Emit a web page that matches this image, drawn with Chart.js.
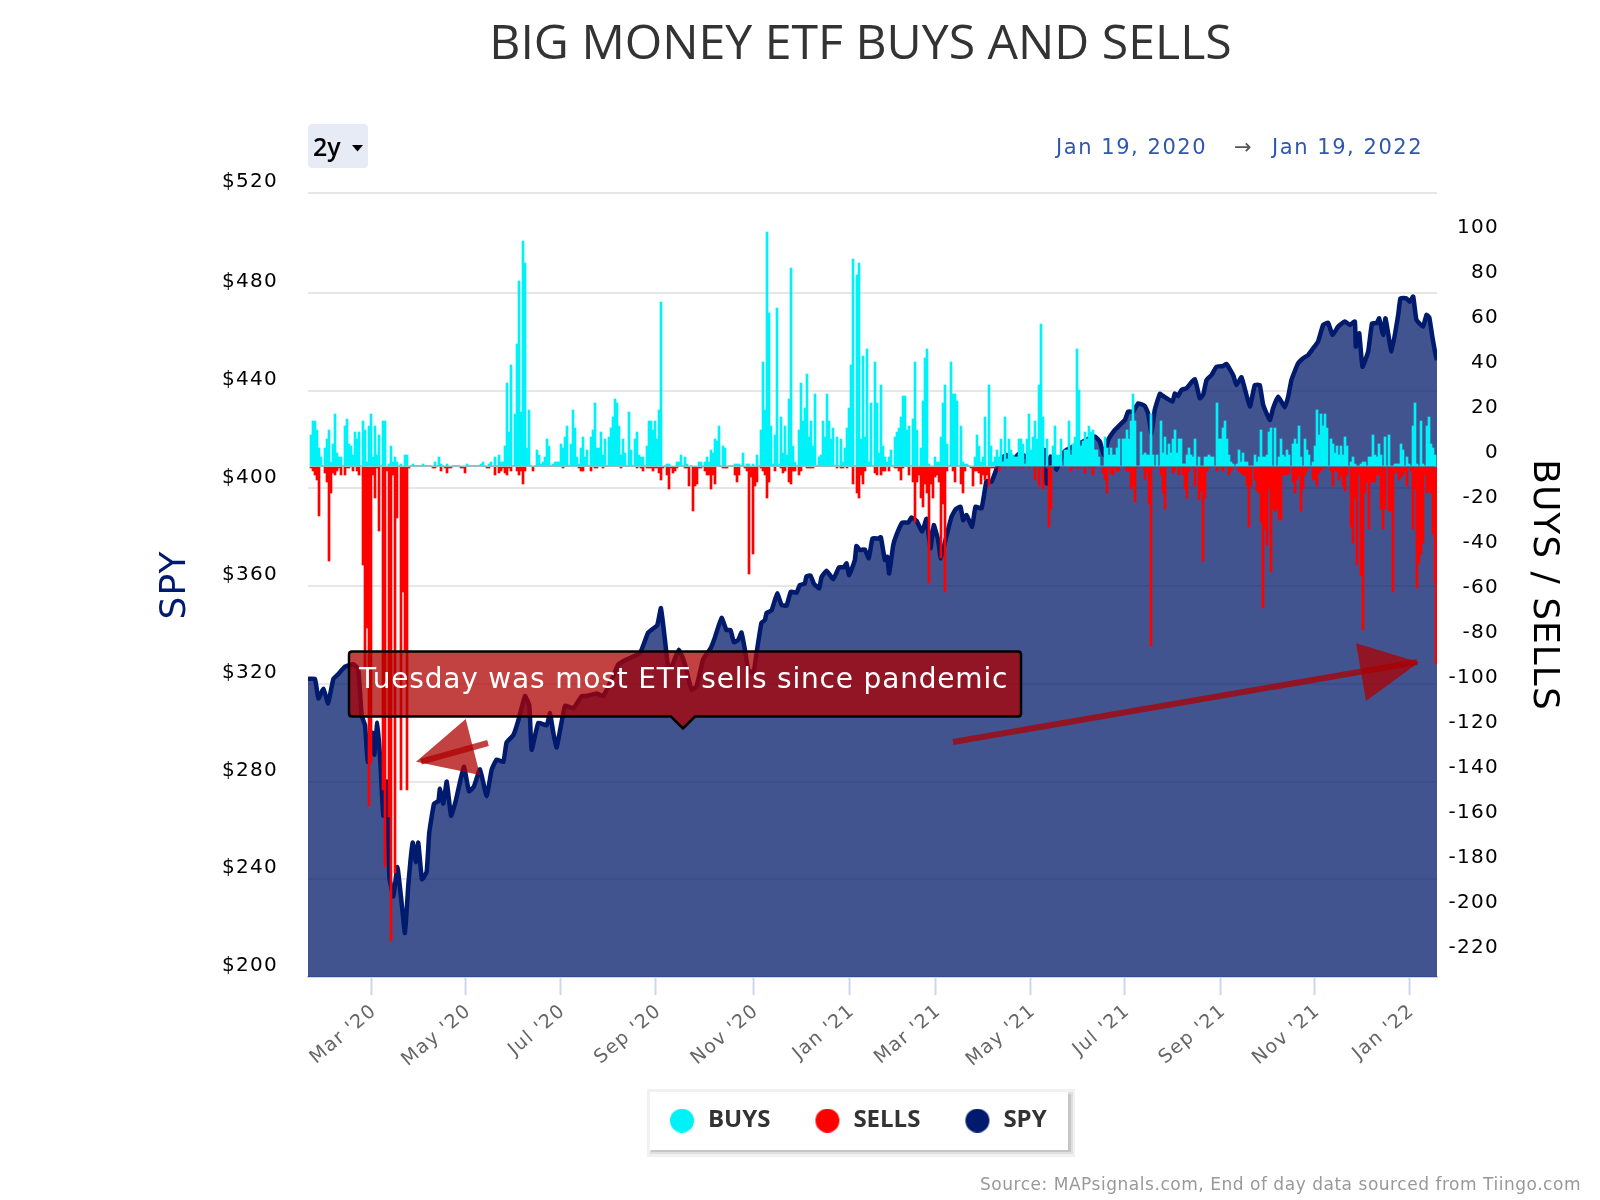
<!DOCTYPE html>
<html><head><meta charset="utf-8">
<script src="https://cdn.jsdelivr.net/npm/chart.js@4"></script>
<style>
html,body{margin:0;padding:0;background:#fff}
#wrap{position:relative;width:1600px;height:1200px;overflow:hidden;font-family:"DejaVu Sans",sans-serif}
canvas{position:absolute;left:0;top:0}
svg{position:absolute;left:0;top:0}
.t{position:absolute;white-space:nowrap}
</style></head><body>
<div id="wrap">
<canvas id="c" width="1600" height="1200"></canvas>
<svg width="1600" height="1200" viewBox="0 0 1600 1200">
 <path d="M352 651.5H1018Q1021 651.5 1021 654.5V713.5Q1021 716.5 1018 716.5H695L683 728.5L671 716.5H352Q349 716.5 349 713.5V654.5Q349 651.5 352 651.5Z" fill="rgba(173,0,0,.742)" stroke="#000" stroke-width="2.5"/>
 <text x="359" y="688" fill="#fff" font-family="DejaVu Sans" font-size="28" letter-spacing="0.82">Tuesday was most ETF sells since pandemic</text>
 <line x1="488" y1="743" x2="421" y2="761.7" stroke="rgba(173,0,0,.74)" stroke-width="6"/>
 <polygon points="416,761.7 465.7,719 480,775" fill="rgba(173,0,0,.74)"/>
 <line x1="953" y1="742" x2="1417" y2="662" stroke="rgba(173,0,0,.74)" stroke-width="6"/>
 <polygon points="1356,643.3 1419,662.3 1366,701" fill="rgba(173,0,0,.74)"/>
 <rect x="308" y="124" width="60" height="44" rx="4" fill="#e6ebf5"/>
 <polygon points="352,145 363,145 357.5,151.5" fill="#000"/>
</svg>
<div class="t" style="left:313px;top:129px;font:600 25px 'Open Sans';color:#000">2y</div>
<div class="t" style="left:1056px;top:135px;font:21px 'DejaVu Sans';letter-spacing:1.55px;color:#3057b0">Jan 19, 2020</div>
<div class="t" style="left:1234px;top:135px;font:21px 'DejaVu Sans';color:#555">→</div>
<div class="t" style="left:1272px;top:135px;font:21px 'DejaVu Sans';letter-spacing:1.55px;color:#3057b0">Jan 19, 2022</div>
<div class="t" style="left:980px;top:1174px;font:17px 'DejaVu Sans';letter-spacing:.53px;color:#999">Source: MAPsignals.com, End of day data sourced from Tiingo.com</div>
</div>
<script>
const seriesNames=['BUYS','SELLS','SPY'];
const seriesColors=['#00f2f9','#ff0000','#001a6e'];
const tickDates=['2020-03-01','2020-05-01','2020-07-01','2020-09-01','2020-11-03','2021-01-04','2021-03-01','2021-05-01','2021-07-01','2021-09-01','2021-11-01','2022-01-01'];
const tickLabels=["Mar '20","May '20","Jul '20","Sep '20","Nov '20","Jan '21","Mar '21","May '21","Jul '21","Sep '21","Nov '21","Jan '22"];
const spyTicks=[200,240,280,320,360,400,440,480,520];
const flowTicks=[-220,-200,-180,-160,-140,-120,-100,-80,-60,-40,-20,0,20,40,60,80,100];

const buys1=[14,20,20,16,8,4,0,8,12,16,2,10,23,6,4,4,0,18,21,10,9,5,15,12,15,0,20,16,2,18,23,4,18,5,14,0,20,20,0,1,
9,2,4,2,0,1,0,5,5,0,0,1,0,0,0,0,1,0,0,0,0,0,2,0,4,1,0,0,1,0,0,0,0,0,0,0,0,0,1,0,0,0,0,0,0,1,2,0,0,1,
2,0,4,0,5,2,2,9,37,15,45,0,23,54,82,24,100,90,8,25,0,0,0,7,5,1,2,4,12,9,0,1,2,2,2,10,8,13,18,0,
10,25,17,4,1,8,13,4,7,0,13,16,28,8,8,15,5,12,0,13,17,22,30,28,18,5,12,6,0,24,7,0,12,15,5,4,4,0,9,20,
20,16,20,12,25,73,0,0,1,1,0,0,0,2,2,5,0,4,1,0];
const buys2=[0,0,0,0,2,2,0,2,4,2,7,6,12,11,18,0,9,8,0,0,0,0,1,1,1,0,6,0,1,1,0,1,0,5,0,16,46,25,104,68,
18,1,14,70,1,22,6,18,5,30,88,9,2,0,16,37,20,26,41,13,20,9,32,0,4,5,20,13,32,20,12,17,0,13,0,12,2,8,17,26,
45,92,0,85,90,12,49,13,52,2,28,0,46,28,6,36,9,4,2,4,7,0,13,15,17,22,31,31,16,18,0,21,46,16,0,8,29,48,52,1,
0,0,4,2,2,13,28,36,10,0,46,32,32,29,0,18,2,1,1,0,0,0,4,14,9,2,4,22,0,36,9,2,4,7,4,12,2,22,3,12,
7,5,4,4,12,12,10,1,12,23,7,13,20,12,36];
const buys3=[63,22,0,12,0,0,9,18,5,5,12,0,7,7,20,5,10,13,52,34,9,11,15,12,18,15,16,7,7,4,0,0,13,8,5,8,5,5,8,12,
0,12,12,16,12,20,32,20,0,0,15,5,6,5,5,23,5,0,5,0,20,6,13,5,10,6,12,16,6,12,12,1,1,5,8,5,4,12,0,4,
0,0,4,4,5,4,4,0,28,12,12,17,20,12,5,2,1,0,1,7,2,6,2,2,0,0,0,5,2,4,16,4,4,5,15,17,0,17,0,4,
12,5,4,7,5,0,10,12,10,18,4,0,12,7,5,0,2,9,25,14,23,18,23,17,0,12,10,6,9,5,9,5,13,9,0,2,4,1,0,0,
1,2,2,0,4,4,14,5,4,10,5,0,13,0,14,0,0,1,1,1,10,7,0,4,1,0,18,28,1,0,20,1,0,18,22,10,8,5,0];

const sells1=[1,2,4,6,22,0,0,3,7,42,12,3,4,2,1,4,0,4,1,1,0,2,0,2,4,0,44,90,72,151,132,4,14,1,29,0,144,178,2,156,
211,4,181,23,0,144,56,82,144,1,0,0,0,0,0,0,0,0,0,0,0,1,1,0,0,2,0,1,3,1,1,0,0,0,0,1,1,3,0,0,0,0,0,0,0,0,0,0,1,1,
0,0,4,0,3,2,1,3,4,1,2,0,0,2,4,2,8,2,0,0,0,2,0,0,0,0,0,0,0,0,0,0,0,0,0,0,1,0,0,0,
0,0,0,0,1,2,2,0,0,0,2,0,1,1,0,0,1,0,0,0,0,0,0,0,0,1,0,0,0,0,0,0,0,1,0,1,2,0,1,1,
1,2,1,1,3,6,1,0,4,10,1,3,2,1,0,0,0,1,1,9];
const sells2=[0,20,9,8,1,1,0,2,4,4,10,4,8,0,0,0,1,1,1,0,0,0,4,7,4,0,0,1,2,48,5,39,9,7,0,1,2,4,14,7,
0,0,2,0,0,1,3,2,0,7,8,2,2,0,4,2,0,0,1,1,1,1,0,0,0,0,0,0,0,0,0,0,0,1,0,1,1,0,1,0,
0,8,0,12,14,4,8,2,0,0,0,0,3,4,0,4,2,2,0,2,0,0,1,1,2,6,1,0,0,4,0,7,25,7,4,14,18,8,12,52,
8,14,5,4,7,41,17,56,2,0,0,2,7,0,0,8,12,2,0,0,1,9,2,2,3,8,4,6,4,9,1,1,1,0,2,1,0,1,0,0,
1,1,1,0,0,1,1,0,0,1,0,0,6,0,9];
const sells3=[1,10,0,1,27,19,1,0,0,0,0,0,0,0,0,2,1,0,1,1,1,0,3,0,1,1,4,1,0,0,0,3,6,12,1,3,4,1,2,2,
0,0,1,2,2,10,9,16,1,0,0,1,6,3,17,80,1,1,0,0,4,12,19,1,0,0,3,2,0,4,1,4,10,14,2,0,1,9,0,15,
11,42,14,2,1,0,0,0,2,0,1,2,0,0,4,2,1,0,1,2,3,4,4,9,27,9,0,6,11,12,25,63,28,35,10,47,19,20,19,24,
24,4,4,4,3,0,7,12,6,4,20,10,4,2,1,0,6,6,9,3,2,1,1,0,0,2,9,2,2,6,4,9,11,4,0,27,34,14,44,4,
49,73,12,7,28,7,7,7,4,4,19,28,19,0,20,20,56,3,2,6,5,4,2,9,0,2,28,10,54,43,39,34,4,12,11,12,30,52,88];

// SPY turning points: day counted from the axis start (2020-01-20), price in dollars
const spyDays=[0,4.5,6.7,10,13,16.4,19.6,24,29.3,32.5,34.7,36.9,38.6,41.6,42.9,44.8,46.6,48.7,50.9,52.6,55.2,57.8,60.1,62.7,64.9,67.7,69.8,71.3,73.7,76.7,78.4,81.5,84.3,85.3,87.5,89.7,92.5,95.5,98.7,100.9,104.1,107.3,111.2,115.5,118.8,122,126.3,128.4,132.8,136,140.3,143.1,144.6,148.9,154.3,156.5,158.6,160.8,166.2,171.6,177,180,186.6,190.9,197.3,200.6,206,214.6,220,225.8,228.2,230.8,232.9,235,239.8,243.7,248,251.2,255.5,260.3,263.1,267.4,270.6,273.2,275.4,278.2,280.3,282.5,284.6,287.9,290,293.2,295.4,296.5,299.7,
303.4,306.2,309.4,312.2,315.9,318,321.2,322.3,324.9,327.1,330.5,332,335.3,339.6,343.4,346.5,348.2,349.9,353.6,354.6,356.8,360,362.6,365,368.7,370.4,373,374.5,375.8,378.4,380.5,384.2,388.1,390.2,393.4,397.1,399.9,402.5,404.6,407.4,409.2,412.6,416.1,418.7,421.9,423.6,425.8,429.4,431.6,435.5,438.7,441.9,445.5,448.4,451.6,454.8,460.2,464,468,472,476.4,477.5,480.1,484,488.3,490.4,
501.2,508.8,512,514.6,517.4,521.7,525,528.2,530.3,533.5,536.8,541.1,543.2,545.4,547.5,550.8,552.9,559,560.5,562.6,564.8,568,573.4,576.6,578.8,581,584.2,587.4,591.7,593.9,598.2,600.3,603.6,609,612.2,615.4,617.6,621.9,624,627.3,631.6,633.8,635.9,640.2,643.5,646.7,649.9,653.1,656.4,659.6,662.4,666.1,670.4,673.6,676.9,677.5,679.7,681.8,685.5,688,690.9,692.6,695.2,696.7,700.6,704.9,706.4,710.2,712.4,714.6,716.7,721,723.2,725,727,729,730];
const spy=[322,322,314,318,312,322,324,327,328,326,307,303,288,300,291,304,290,266,280,241,233,245,233,218,238,255,247,255,240,243,259,271,272,277,271,280,266,272,281,286,276,278,285,274,285,289,288,296,299,305,315,311,293,304,303,308,300,294,311,310,315,315,316,315,323,328,330,332.5,341,344,351,338,327,327,334,328,317.5,319,330,334.5,339,347,342,342,337,338,341,334,326,324,332.5,345,346,349,350,
357,352.3,352,357.7,357.3,360.4,361,364,364.3,361,359,363.6,366.3,362.8,367.7,367.7,369.3,364.5,370.7,376.4,374.8,375,371.4,379.5,379.5,380,370.7,372,365.2,376.8,381,386,386,388.1,386.8,382.3,387.5,375.5,385,379,371.4,380,388.4,391.4,392.5,387,389.1,384.3,392.5,391.8,403,402.7,408.5,412.3,413.7,411,414.4,413,411,415,415.7,402,413,407.6,414.4,415.7,
419.2,421.2,419.2,413.7,419.8,423.9,426,428,431.4,431.4,434.8,433.7,430.7,422.6,432.1,438.7,437.8,435.5,438.9,437.8,440.3,441,444.7,436.9,438.3,444.4,446.4,449.8,450.1,450.9,446.4,442.3,445.5,433.5,442.3,442.3,434.2,428,432.8,437.6,433.2,437.6,444.4,451.2,453.3,454.6,457.3,460.1,466.9,467.8,462.8,466.2,468.3,466.9,468.3,458,463.5,449.8,456,467.6,467.6,469.6,462.8,469.6,456,471,477.8,477.8,476.4,478.5,469,466.2,471,470,462,455,452.5];

const SLOTS=564, firstBarDay=1.94, slotDays=2/1.5466, SPY_MAX=520.9;
function place(target,seg,start){seg.forEach((v,i)=>{target[start+i]=v;});}
const buys=new Array(SLOTS).fill(0), sells=new Array(SLOTS).fill(0);
place(buys,buys1,0);place(buys,buys2,190);place(buys,buys3,365);
place(sells,sells1,0);place(sells,sells2,190);place(sells,sells3,365);
const dayOf=s=>(Date.parse(s)-Date.parse('2020-01-20'))/864e5;
const barDay=j=>firstBarDay+j*slotDays;
const tickValues=tickDates.map(dayOf);

function dot(color){const c=document.createElement('canvas');c.width=28;c.height=24;const x=c.getContext('2d');x.fillStyle=color;x.beginPath();x.arc(14,12,12,0,Math.PI*2);x.fill();return c;}
const dots=seriesColors.map(dot);

// letter-spaced axis text, matching the reference's spaced type
const S=Chart.Scale.prototype, dl=S.drawLabels, dt=S.drawTitle;
S.drawLabels=function(a){this.ctx.letterSpacing='1.3px';dl.call(this,a);this.ctx.letterSpacing='0px';};
S.drawTitle=function(a){this.ctx.letterSpacing='1px';dt.call(this,a);this.ctx.letterSpacing='0px';};

const pagePlugin={id:'page',
 afterLayout(ch){
  const lg=ch.legend;const h=lg.bottom-lg.top;lg.left+=32.8;lg.right+=32.8;lg.top=1065.6;lg.bottom=lg.top+h;
  const tb=ch.titleBlock;tb.left+=36;tb.right+=36;
 },
 beforeDraw(ch){
  const c=ch.ctx;c.save();
  c.fillStyle='#f1f1f1';c.fillRect(647,1089,428,68);
  c.fillStyle='#e0e0e0';c.fillRect(650,1092,423,62);
  c.fillStyle='#c6c6c6';c.fillRect(651,1094,420,58);
  c.fillStyle='#fff';c.fillRect(650,1092,418,58);
  c.restore();
 },
 beforeDatasetDraw(ch,{meta}){
  if(meta.type==='bar')meta.data.forEach(b=>{b.x=Math.min(Math.round(b.x),Math.floor(ch.chartArea.right)-1);b.y=Math.round(b.y);b.base=Math.round(b.base);});
 }};

new Chart(document.getElementById('c'),{
 type:'bar',
 data:{datasets:[
  {type:'bar',label:seriesNames[0],data:buys.map((v,j)=>({x:barDay(j),y:v})),backgroundColor:seriesColors[0],xAxisID:'x',yAxisID:'y1',barThickness:2,grouped:false,order:1},
  {type:'bar',label:seriesNames[1],data:sells.map((v,j)=>({x:barDay(j),y:-v})),backgroundColor:seriesColors[1],xAxisID:'x',yAxisID:'y1',barThickness:2,grouped:false,order:1},
  {type:'line',label:seriesNames[2],data:spy.map((v,i)=>({x:spyDays[i],y:v})),borderColor:seriesColors[2],backgroundColor:'rgba(0,26,105,.745)',borderWidth:4.5,pointRadius:0,tension:0.12,fill:'start',borderJoinStyle:'round',xAxisID:'x',yAxisID:'y',order:2}
 ]},
 plugins:[pagePlugin],
 options:{
  responsive:false,animation:false,devicePixelRatio:1,
  layout:{autoPadding:false,padding:{left:150,right:101,top:0,bottom:0}},
  plugins:{
   tooltip:{enabled:false},
   title:{display:true,text:'BIG MONEY ETF BUYS AND SELLS',color:'#333',font:{family:'Open Sans',size:48.2,weight:'normal',lineHeight:1.2},padding:{top:16,bottom:119.16}},
   legend:{position:'bottom',labels:{usePointStyle:true,pointStyleWidth:28,boxHeight:24,padding:43,color:'#333',font:{family:'Open Sans',size:24,weight:'bold'},
    generateLabels:()=>seriesNames.map((n,i)=>({text:n,pointStyle:dots[i],fillStyle:seriesColors[i],strokeStyle:seriesColors[i],lineWidth:0,hidden:false,datasetIndex:i,fontColor:'#333'}))}}
  },
  scales:{
   x:{type:'linear',position:'bottom',offset:false,min:0,max:730,
    afterBuildTicks(s){s.ticks=tickValues.map(value=>({value}));},
    afterFit(s){s.height=1200-977-s.chart.legend.height;},
    border:{color:'#ccd6eb',width:2},
    grid:{offset:false,drawOnChartArea:false,drawTicks:true,tickLength:18,tickColor:'#ccd6eb',tickWidth:2},
    ticks:{autoSkip:false,maxRotation:40,minRotation:40,padding:5,labelOffset:3,color:'#666',font:{family:'DejaVu Sans',size:19},callback:v=>tickLabels[tickValues.indexOf(v)]||''}},
   y:{type:'linear',position:'left',min:200,max:SPY_MAX,
    afterBuildTicks(s){s.ticks=spyTicks.map(v=>({value:v===520?SPY_MAX:v}));},
    afterFit(s){s.width=158;},
    border:{display:false},
    grid:{color:'#e6e6e6',lineWidth:2,drawTicks:false},
    ticks:{padding:30,labelOffset:-11,color:'#000',font:{family:'DejaVu Sans',size:20},callback:v=>'$'+(Math.round(v/40)*40)},
    title:{display:true,text:'SPY',color:'#001a6e',font:{family:'DejaVu Sans',size:36},padding:{top:4,bottom:0}}},
   y1:{type:'linear',position:'right',min:-227.1,max:121.33,
    afterBuildTicks(s){s.ticks=flowTicks.map(value=>({value}));},
    afterFit(s){s.width=62;},
    border:{display:false},
    grid:{drawOnChartArea:false,drawTicks:false},
    ticks:{crossAlign:'far',padding:4,labelOffset:-13,color:'#000',font:{family:'DejaVu Sans',size:20},callback:v=>String(v)},
    title:{display:true,text:'BUYS / SELLS',color:'#000',font:{family:'DejaVu Sans',size:36},padding:{top:-65.6,bottom:0}}}
  }
 }
});
</script>
</body></html>
